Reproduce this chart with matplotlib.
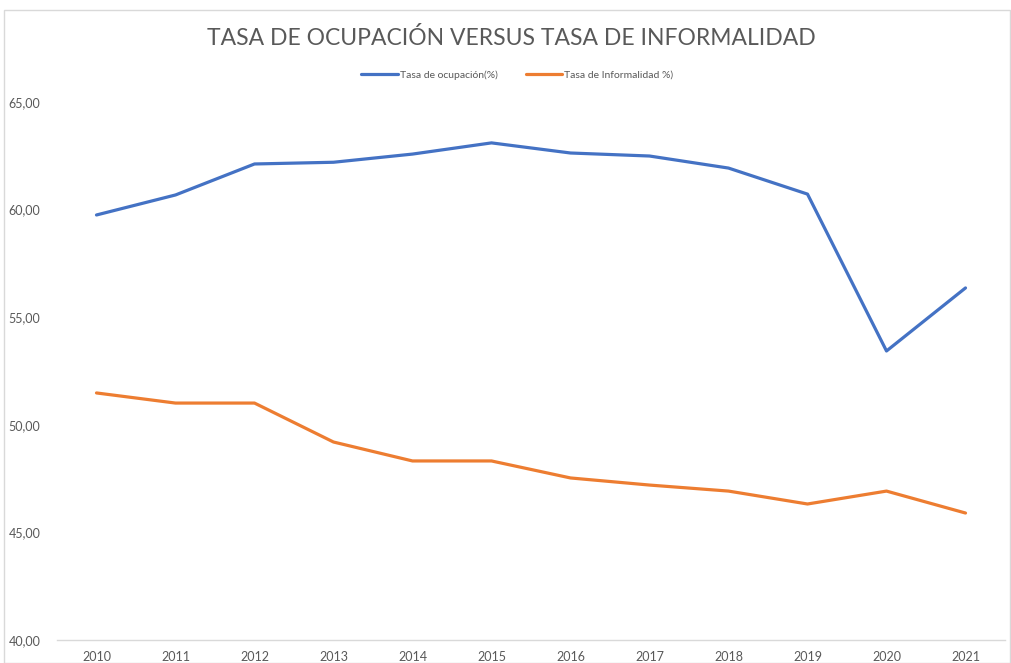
import matplotlib
matplotlib.use("Agg")
import matplotlib.pyplot as plt
from matplotlib.patches import Rectangle
from matplotlib.ticker import FuncFormatter

years = ["2010", "2011", "2012", "2013", "2014", "2015", "2016", "2017", "2018", "2019", "2020", "2021"]
ocupacion = [59.75, 60.68, 62.12, 62.20, 62.58, 63.10, 62.63, 62.49, 61.93, 60.72, 53.43, 56.36]
informalidad = [51.48, 51.01, 51.01, 49.20, 48.32, 48.32, 47.53, 47.20, 46.92, 46.32, 46.92, 45.90]
series_names = ["Tasa de ocupación(%)", "Tasa de Informalidad %)"]

plt.rcParams['font.family'] = ['Lato', 'DejaVu Sans']

fig = plt.figure(figsize=(10.11, 6.63), dpi=100)
fig.patches.append(Rectangle((4/1011, 0), 1 - 5/1011, 1 - 10/663, transform=fig.transFigure,
                             fill=False, edgecolor='#d9d9d9', linewidth=1.0))
ax = fig.add_axes([57/1011, 1 - 640/663, (1005 - 57)/1011, (640 - 102)/663])

x = list(range(len(years)))
ax.plot(x, ocupacion, color='#4472C4', lw=2.3, solid_joinstyle='round', solid_capstyle='round', label=series_names[0])
ax.plot(x, informalidad, color='#ED7D31', lw=2.3, solid_joinstyle='round', solid_capstyle='round', label=series_names[1])

ax.set_xlim(-0.5, len(years) - 0.5)
ax.set_ylim(40, 65)
ax.set_yticks([40, 45, 50, 55, 60, 65])
ax.yaxis.set_major_formatter(FuncFormatter(lambda v, p: f"{v:.2f}".replace('.', ',')))
ax.set_xticks(x)
ax.set_xticklabels(years)
for s in ['top', 'right', 'left']:
    ax.spines[s].set_visible(False)
ax.spines['bottom'].set_color('#d9d9d9')
ax.spines['bottom'].set_linewidth(1.0)
ax.tick_params(axis='both', length=0, labelsize=9, labelcolor='#595959')
ax.tick_params(axis='y', pad=12)
ax.tick_params(axis='x', pad=8)

fig.text(0.5 + 6/1011, 1 - 38/663, "TASA DE OCUPACIÓN VERSUS TASA DE INFORMALIDAD", ha='center', va='center',
         fontsize=16.5, color='#595959', fontweight='normal')
fig.legend(loc='center', bbox_to_anchor=(0.5 + 12/1011, 1 - 75/663), ncol=2, frameon=False, fontsize=7.5,
           labelcolor='#595959', handlelength=3.5, columnspacing=2.7, handletextpad=0.2)

fig.savefig("out.png", dpi=100)
